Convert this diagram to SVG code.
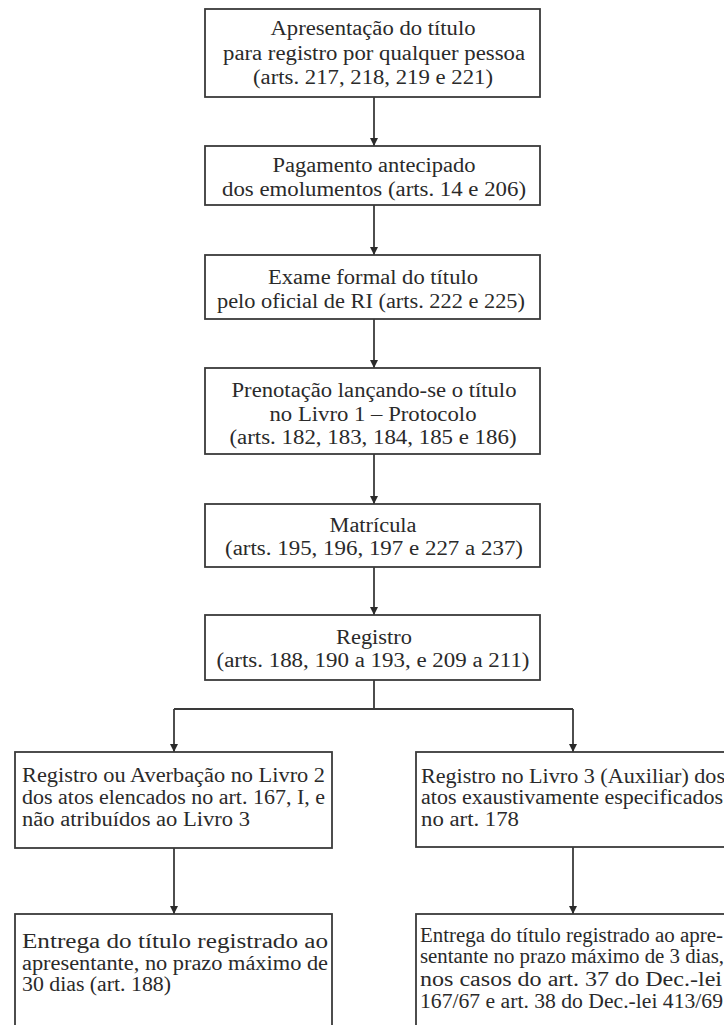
<svg xmlns="http://www.w3.org/2000/svg" width="724" height="1025" viewBox="0 0 724 1025">
<style>
  .box { fill: #ffffff; stroke: #3a3a3a; stroke-width: 1.8; }
  .t { font-family: "Liberation Serif", "Times New Roman", serif; font-size: 20px; fill: #2a2a2a; }
  .c { text-anchor: middle; }
  .conn { fill: none; stroke: #3a3a3a; stroke-width: 1.8; }
</style>
<defs>
  <marker id="arr" markerUnits="userSpaceOnUse" markerWidth="8" markerHeight="8" refX="8" refY="4" orient="auto">
    <path d="M0,0 L8,4 L0,8 z" fill="#2a2a2a"/>
  </marker>
</defs>
<rect width="724" height="1025" fill="#ffffff"/>

<g id="connectors">
  <path class="conn" d="M374,97 V146" marker-end="url(#arr)"/>
  <path class="conn" d="M374,205 V255" marker-end="url(#arr)"/>
  <path class="conn" d="M374,319 V368" marker-end="url(#arr)"/>
  <path class="conn" d="M374,454 V504" marker-end="url(#arr)"/>
  <path class="conn" d="M374,567 V615" marker-end="url(#arr)"/>
  <path class="conn" d="M374,680 V709 M174,709 H573"/>
  <path class="conn" d="M174,709 V752" marker-end="url(#arr)"/>
  <path class="conn" d="M573,709 V752" marker-end="url(#arr)"/>
  <path class="conn" d="M174,848 V914" marker-end="url(#arr)"/>
  <path class="conn" d="M573,847 V914" marker-end="url(#arr)"/>
</g>

<g id="n1">
  <rect class="box" x="205" y="9" width="335" height="88"/>
  <text class="t c" x="373" y="35" textLength="205" lengthAdjust="spacingAndGlyphs">Apresentação do título</text>
  <text class="t c" x="374" y="60" textLength="302" lengthAdjust="spacingAndGlyphs">para registro por qualquer pessoa</text>
  <text class="t c" x="373" y="84" textLength="240" lengthAdjust="spacingAndGlyphs">(arts. 217, 218, 219 e 221)</text>
</g>

<g id="n2">
  <rect class="box" x="205" y="146" width="335" height="59"/>
  <text class="t c" x="374" y="172" textLength="203" lengthAdjust="spacingAndGlyphs">Pagamento antecipado</text>
  <text class="t c" x="374" y="196" textLength="304" lengthAdjust="spacingAndGlyphs">dos emolumentos (arts. 14 e 206)</text>
</g>

<g id="n3">
  <rect class="box" x="205" y="255" width="335" height="64"/>
  <text class="t c" x="373" y="284" textLength="210" lengthAdjust="spacingAndGlyphs">Exame formal do título</text>
  <text class="t c" x="371" y="308" textLength="308" lengthAdjust="spacingAndGlyphs">pelo oficial de RI (arts. 222 e 225)</text>
</g>

<g id="n4">
  <rect class="box" x="205" y="368" width="335" height="86"/>
  <text class="t c" x="374" y="397" textLength="285" lengthAdjust="spacingAndGlyphs">Prenotação lançando-se o título</text>
  <text class="t c" x="373" y="421" textLength="207" lengthAdjust="spacingAndGlyphs">no Livro 1 – Protocolo</text>
  <text class="t c" x="373" y="444" textLength="287" lengthAdjust="spacingAndGlyphs">(arts. 182, 183, 184, 185 e 186)</text>
</g>

<g id="n5">
  <rect class="box" x="205" y="504" width="335" height="63"/>
  <text class="t c" x="373" y="532" textLength="87" lengthAdjust="spacingAndGlyphs">Matrícula</text>
  <text class="t c" x="374" y="555" textLength="298" lengthAdjust="spacingAndGlyphs">(arts. 195, 196, 197 e 227 a 237)</text>
</g>

<g id="n6">
  <rect class="box" x="205" y="615" width="335" height="65"/>
  <text class="t c" x="374" y="644" textLength="76" lengthAdjust="spacingAndGlyphs">Registro</text>
  <text class="t c" x="373" y="667" textLength="313" lengthAdjust="spacingAndGlyphs">(arts. 188, 190 a 193, e 209 a 211)</text>
</g>

<g id="n7">
  <rect class="box" x="15" y="752" width="317" height="96"/>
  <text class="t" x="22" y="782" textLength="303" lengthAdjust="spacingAndGlyphs">Registro ou Averbação no Livro 2</text>
  <text class="t" x="22" y="804" textLength="303" lengthAdjust="spacingAndGlyphs">dos atos elencados no art. 167, I, e</text>
  <text class="t" x="22" y="826" textLength="228" lengthAdjust="spacingAndGlyphs">não atribuídos ao Livro 3</text>
</g>

<g id="n8">
  <rect class="box" x="416" y="752" width="320" height="95"/>
  <text class="t" x="421" y="783" textLength="304" lengthAdjust="spacingAndGlyphs">Registro no Livro 3 (Auxiliar) dos</text>
  <text class="t" x="421" y="804" textLength="302" lengthAdjust="spacingAndGlyphs">atos exaustivamente especificados</text>
  <text class="t" x="421" y="826" textLength="98" lengthAdjust="spacingAndGlyphs">no art. 178</text>
</g>

<g id="n9">
  <rect class="box" x="15" y="914" width="317" height="130"/>
  <text class="t" x="22" y="948" textLength="306" lengthAdjust="spacingAndGlyphs">Entrega do título registrado ao</text>
  <text class="t" x="22" y="970" textLength="306" lengthAdjust="spacingAndGlyphs">apresentante, no prazo máximo de</text>
  <text class="t" x="22" y="991" textLength="149" lengthAdjust="spacingAndGlyphs">30 dias (art. 188)</text>
</g>

<g id="n10">
  <rect class="box" x="416" y="914" width="320" height="130"/>
  <text class="t" x="420" y="942" textLength="303" lengthAdjust="spacingAndGlyphs">Entrega do título registrado ao apre-</text>
  <text class="t" x="420" y="963" textLength="304" lengthAdjust="spacingAndGlyphs">sentante no prazo máximo de 3 dias,</text>
  <text class="t" x="420" y="986" textLength="302" lengthAdjust="spacingAndGlyphs">nos casos do art. 37 do Dec.-lei</text>
  <text class="t" x="420" y="1008" textLength="303" lengthAdjust="spacingAndGlyphs">167/67 e art. 38 do Dec.-lei 413/69</text>
</g>
</svg>
